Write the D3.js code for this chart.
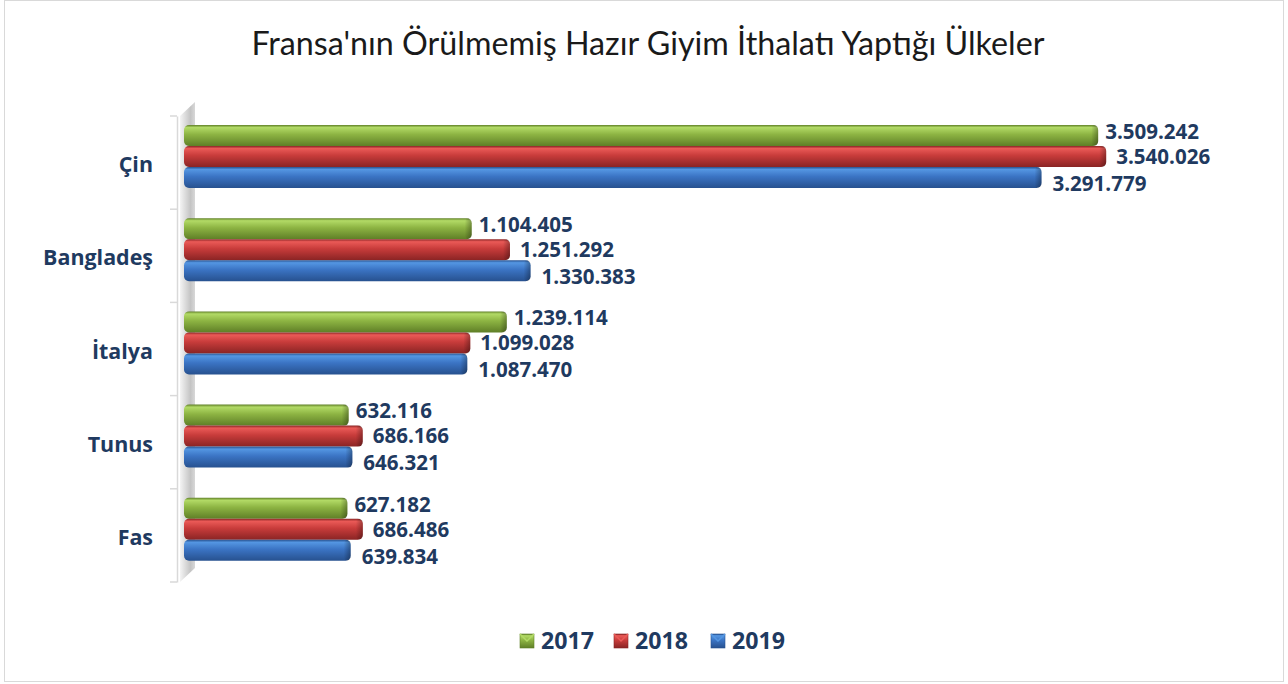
<!DOCTYPE html>
<html>
<head>
<meta charset="utf-8">
<script src="https://cdn.jsdelivr.net/npm/d3@7"></script>
<style>
  html, body { margin: 0; padding: 0; background: #fff; }
  svg { display: block; }
</style>
</head>
<body>
<div id="chart"></div>
<script>
const categories = ['Çin', 'Bangladeş', 'İtalya', 'Tunus', 'Fas'];
const years = ['2017', '2018', '2019'];
const values2017 = [3509242, 1104405, 1239114, 632116, 627182];
const values2018 = [3540026, 1251292, 1099028, 686166, 686486];
const values2019 = [3291779, 1330383, 1087470, 646321, 639834];
const title = "Fransa'nın Örülmemiş Hazır Giyim İthalatı Yaptığı Ülkeler";

const series = [values2017, values2018, values2019];
const palette = [
  ['#b2da66', '#8db443', '#5f7f27'],
  ['#ea5a57', '#c83c3b', '#8a2424'],
  ['#5496e2', '#3b74c4', '#27518f']
];
const textColor = '#1f3a60';
const boldFont = '"Open Sans", Lato, sans-serif';

const width = 1288, height = 684;
const svg = d3.select('#chart').append('svg')
  .attr('width', width)
  .attr('height', height);

const defs = svg.append('defs');
palette.forEach((c, i) => {
  const g = defs.append('linearGradient')
    .attr('id', 'bar' + i).attr('x1', 0).attr('y1', 0).attr('x2', 0).attr('y2', 1);
  g.append('stop').attr('offset', '0%').attr('stop-color', c[2]);
  g.append('stop').attr('offset', '12%').attr('stop-color', c[0]);
  g.append('stop').attr('offset', '45%').attr('stop-color', c[1]);
  g.append('stop').attr('offset', '100%').attr('stop-color', c[2]);
});
const wallGrad = defs.append('linearGradient')
  .attr('id', 'wall').attr('x1', 0).attr('y1', 0).attr('x2', 1).attr('y2', 0);
wallGrad.append('stop').attr('offset', '0%').attr('stop-color', '#f4f4f4');
wallGrad.append('stop').attr('offset', '70%').attr('stop-color', '#c4c4c4');
wallGrad.append('stop').attr('offset', '100%').attr('stop-color', '#d8d8d8');
const capGrad = defs.append('linearGradient')
  .attr('id', 'cap').attr('x1', 0).attr('y1', 0).attr('x2', 1).attr('y2', 0);
capGrad.append('stop').attr('offset', '0%').attr('stop-color', '#000').attr('stop-opacity', 0);
capGrad.append('stop').attr('offset', '100%').attr('stop-color', '#000').attr('stop-opacity', 0.3);

// frame
svg.append('rect')
  .attr('x', 4.5).attr('y', 0.5)
  .attr('width', 1279).attr('height', 681)
  .attr('fill', 'none').attr('stroke', '#d9d9d9');

// fit a text node's font size so it spans a target width
function fit(sel, base, target) {
  const w = sel.node().getComputedTextLength();
  return base * target / w;
}

// title
const titleText = svg.append('text')
  .attr('x', 648).attr('y', 55)
  .attr('text-anchor', 'middle')
  .attr('font-family', 'Lato, "Open Sans", sans-serif')
  .attr('font-size', 27)
  .attr('fill', '#1a1a1a')
  .text(title);
titleText.attr('font-size', fit(titleText, 27, 793));

// measure bold sizes from the reference widths
const probe = svg.append('text')
  .attr('font-family', boldFont).attr('font-weight', 'bold').attr('font-size', 20);
const catSize = fit(probe.text('Bangladeş'), 20, 110);
const valSize = fit(probe.text('3.509.242'), 20, 94);
const legSize = fit(probe.text('2017'), 20, 53);
probe.remove();

const x = d3.scaleLinear()
  .domain([0, 4000000])
  .range([184, 184 + 4 * 260.5]);

const y = d3.scaleBand()
  .domain(categories)
  .range([116, 582])
  .padding(0);

const yInner = d3.scaleBand()
  .domain(years)
  .range([9, 72])
  .padding(0);

// depth wall
const depth = 15;
svg.append('path')
  .attr('d', `M${x(0) - 4},${y.range()[0]} L${x(0) - 4 + depth},${y.range()[0] - 14} L${x(0) - 4 + depth},${y.range()[1] - 14} L${x(0) - 4},${y.range()[1]} Z`)
  .attr('fill', 'url(#wall)');

// category axis
const axis = svg.append('g')
  .attr('transform', `translate(177,0)`)
  .call(d3.axisLeft(y).tickSize(0).tickPadding(24).tickFormat(d => d));
axis.select('.domain').attr('stroke', '#d9d9d9').attr('stroke-width', 1.5);
axis.selectAll('.tick text')
  .attr('font-family', boldFont)
  .attr('font-weight', 'bold')
  .attr('font-size', catSize)
  .attr('dy', '0.45em')
  .attr('fill', textColor);
// tick marks at band borders
const borders = categories.map(c => y(c)).concat([y.range()[1]]);
svg.append('g').selectAll('line')
  .data(borders)
  .join('line')
  .attr('x1', 170).attr('x2', 177)
  .attr('y1', d => d).attr('y2', d => d)
  .attr('stroke', '#d9d9d9').attr('stroke-width', 1.5);

const fmt = d3.formatLocale({ decimal: ',', thousands: '.', grouping: [3], currency: ['', ''] }).format(',d');

const labelDy = [-4, 0, 6];
const labelDx = [7, 10, 11];

const groups = svg.append('g').selectAll('g')
  .data(categories)
  .join('g')
  .attr('transform', d => `translate(0,${y(d)})`);

years.forEach((yr, si) => {
  const bh = yInner.bandwidth();
  groups.append('rect')
    .attr('x', x(0))
    .attr('y', yInner(yr))
    .attr('width', (d, i) => x(series[si][i]) - x(0))
    .attr('height', bh)
    .attr('rx', 5).attr('ry', 5)
    .attr('fill', `url(#bar${si})`);
  groups.append('rect')
    .attr('x', (d, i) => x(series[si][i]) - 7)
    .attr('y', yInner(yr))
    .attr('width', 7)
    .attr('height', bh)
    .attr('rx', 5).attr('ry', 5)
    .attr('fill', 'url(#cap)');
  groups.append('text')
    .attr('x', (d, i) => x(series[si][i]) + labelDx[si])
    .attr('y', yInner(yr) + bh / 2 + labelDy[si])
    .attr('dy', '0.36em')
    .attr('font-family', boldFont)
    .attr('font-weight', 'bold')
    .attr('font-size', valSize)
    .attr('fill', textColor)
    .text((d, i) => fmt(series[si][i]));
});

// legend
const legendX = [520, 614, 711];
const legend = svg.append('g').selectAll('g')
  .data(years)
  .join('g')
  .attr('transform', (d, i) => `translate(${legendX[i]},634)`);
legend.append('rect')
  .attr('width', 14).attr('height', 14)
  .attr('fill', (d, i) => `url(#bar${i})`)
  .attr('stroke', (d, i) => palette[i][2]).attr('stroke-width', 0.6);
legend.append('path')
  .attr('d', 'M0,0 L7,7 L14,0')
  .attr('fill', 'none')
  .attr('stroke', (d, i) => palette[i][0]).attr('stroke-width', 1.5);
legend.append('text')
  .attr('x', 21).attr('y', 7)
  .attr('dy', '0.36em')
  .attr('font-family', boldFont)
  .attr('font-weight', 'bold')
  .attr('font-size', legSize)
  .attr('fill', textColor)
  .text(d => d);
</script>
</body>
</html>
